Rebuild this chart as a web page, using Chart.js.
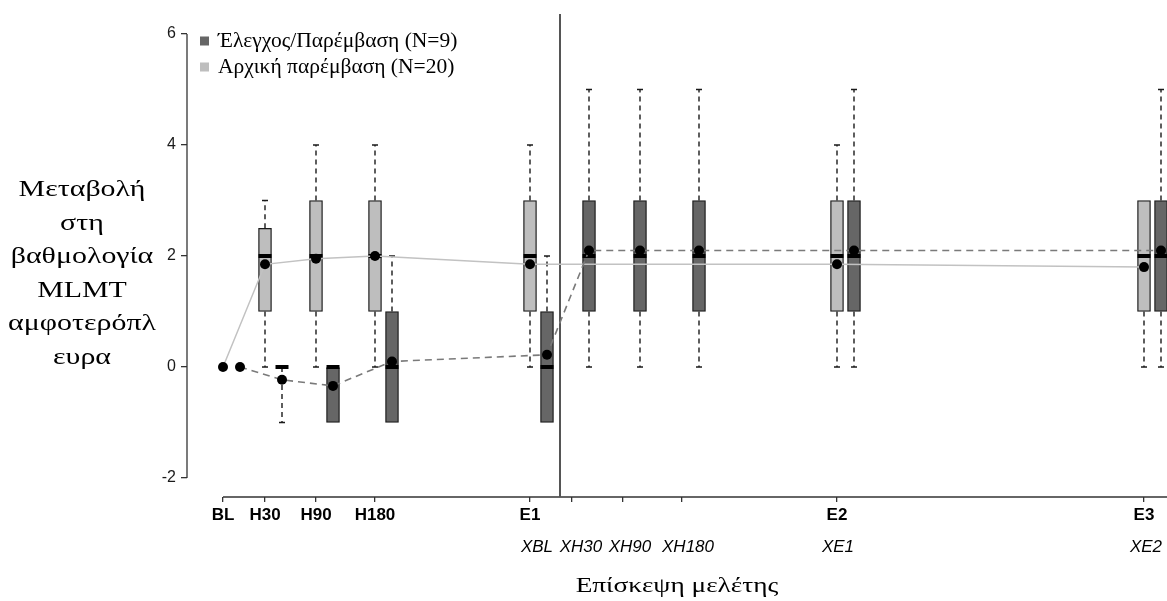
<!DOCTYPE html>
<html>
<head>
<meta charset="utf-8">
<script src="https://cdn.jsdelivr.net/npm/chart.js@4.4.1/dist/chart.umd.min.js"></script>
<style>
  html, body { margin: 0; padding: 0; background: #fff; }
  #wrap { width: 1167px; height: 601px; }
</style>
</head>
<body>
<div id="wrap"><canvas id="myChart"></canvas></div>
<script>
// visits on the study axis
const visitNames = ['BL', 'H30', 'H90', 'H180', 'E1', 'XH30', 'XH90', 'XH180', 'E2', 'E3'];
const visitPos   = [0, 4.2, 9.3, 15.2, 30.7, 34.9, 40.0, 45.9, 61.4, 92.1];
const tickLabels = ['BL', 'H30', 'H90', 'H180', 'E1', '', '', '', 'E2', 'E3'];
const label2Text = ['XBL', 'XH30', 'XH90', 'XH180', 'XE1', 'XE2'];
const label2Pos  = [31.4, 35.8, 40.7, 46.5, 61.5, 92.3];
const yTicks = [-2, 0, 2, 4, 6];
const crossover = 33.7;

// Αρχική παρέμβαση (N=20)
const initVisits = ['BL', 'H30', 'H90', 'H180', 'E1', 'E2', 'E3'];
const initMin  = [null, 0, 0, 0, 0, 0, 0];
const initQ1   = [null, 1, 1, 1, 1, 1, 1];
const initMed  = [null, 2, 2, 2, 2, 2, 2];
const initQ3   = [null, 2.5, 3, 3, 3, 3, 3];
const initMax  = [null, 3, 4, 4, 4, 4, 3];
const initMean = [0, 1.85, 1.95, 2.0, 1.85, 1.85, 1.8];

// Έλεγχος/Παρέμβαση (N=9)
const ctrlVisits = ['BL', 'H30', 'H90', 'H180', 'E1', 'XH30', 'XH90', 'XH180', 'E2', 'E3'];
const ctrlMin  = [null, -1, -1, -1, -1, 0, 0, 0, 0, 0];
const ctrlQ1   = [null, 0, -1, -1, -1, 1, 1, 1, 1, 1];
const ctrlMed  = [null, 0, 0, 0, 0, 2, 2, 2, 2, 2];
const ctrlQ3   = [null, 0, 0, 1, 1, 3, 3, 3, 3, 3];
const ctrlMax  = [null, 0, 0, 2, 2, 5, 5, 5, 5, 5];
const ctrlMean = [0, -0.23, -0.34, 0.1, 0.22, 2.1, 2.1, 2.1, 2.1, 2.1];

const yTitleLines = ['Μεταβολή', 'στη', 'βαθμολογία', 'MLMT', 'αμφοτερόπλ', 'ευρα'];
const xTitle = 'Επίσκεψη μελέτης';

const DODGE = 1.7;          // second group drawn to the right of the visit
const lightFill = '#bebebe';
const darkFill = '#666666';

function xOf(v) { return visitPos[visitNames.indexOf(v)]; }

function boxData(visits, q1, q3, dx) {
  return visits.map((v, i) => q1[i] == null ? null : {x: xOf(v) + dx, y: [q1[i], q3[i]]}).filter(Boolean);
}
function pointData(visits, vals, dx) {
  return visits.map((v, i) => vals[i] == null ? null : {x: xOf(v) + dx, y: vals[i]}).filter(Boolean);
}
function whiskerData(visits, q1, q3, mn, mx, dx) {
  const pts = [];
  visits.forEach((v, i) => {
    if (q1[i] == null) return;
    const x = xOf(v) + dx;
    if (mx[i] > q3[i]) pts.push({x: x, y: q3[i]}, {x: x, y: mx[i]}, {x: x, y: null});
    if (mn[i] < q1[i]) pts.push({x: x, y: q1[i]}, {x: x, y: mn[i]}, {x: x, y: null});
  });
  return pts;
}
function capData(visits, q1, q3, mn, mx, dx) {
  const pts = [];
  visits.forEach((v, i) => {
    if (q1[i] == null) return;
    const x = xOf(v) + dx;
    if (mx[i] > q3[i]) pts.push({x: x, y: mx[i]});
    if (mn[i] < q1[i]) pts.push({x: x, y: mn[i]});
  });
  return pts;
}

const serif = "'Liberation Serif', 'Times New Roman', serif";
const sans = "'Liberation Sans', Arial, sans-serif";

// bottom axes: fixed height, no side padding for edge labels
function fitBottom(h) {
  return (s) => { s.height = h; s.paddingLeft = 0; s.paddingRight = 0; };
}

const extras = {
  id: 'extras',
  beforeDatasetsDraw(chart) {
    const {ctx, chartArea, scales: {x, y}} = chart;
    ctx.save();
    ctx.strokeStyle = '#333';
    ctx.lineWidth = 1.3;
    // y axis line only between -2 and 6
    ctx.beginPath();
    ctx.moveTo(chartArea.left, y.getPixelForValue(yTicks[0]));
    ctx.lineTo(chartArea.left, y.getPixelForValue(yTicks[yTicks.length - 1]));
    ctx.stroke();
    // x axis line from BL onward
    ctx.beginPath();
    ctx.moveTo(x.getPixelForValue(visitPos[0]), chartArea.bottom);
    ctx.lineTo(chartArea.right, chartArea.bottom);
    ctx.stroke();
    // crossover line
    ctx.strokeStyle = '#555';
    ctx.lineWidth = 2;
    ctx.beginPath();
    ctx.moveTo(x.getPixelForValue(crossover), y.getPixelForValue(6.36));
    ctx.lineTo(x.getPixelForValue(crossover), chartArea.bottom);
    ctx.stroke();
    ctx.restore();
  },
  afterDraw(chart) {
    const {ctx, chartArea} = chart;
    ctx.save();
    ctx.fillStyle = '#000';
    // legend
    const items = chart.data.datasets.filter(d => d.legendRank != null).sort((a, b) => a.legendRank - b.legendRank);
    ctx.font = '21.5px ' + serif;
    ctx.textBaseline = 'middle';
    ctx.textAlign = 'left';
    items.forEach((d, i) => {
      const cy = chartArea.top + 16 + i * 26;
      ctx.fillStyle = d.backgroundColor;
      ctx.fillRect(chartArea.left + 13, cy - 4.5, 9, 9);
      ctx.fillStyle = '#000';
      ctx.fillText(d.label, chartArea.left + 31, cy);
    });
    // y title, horizontal lines
    ctx.font = '23px ' + serif;
    ctx.textAlign = 'center';
    yTitleLines.forEach((t, i) => {
      ctx.save();
      ctx.translate(82, 190 + i * 33.5);
      ctx.scale(1.3, 1);
      ctx.fillText(t, 0, 0);
      ctx.restore();
    });
    // x title
    ctx.font = '22px ' + serif;
    ctx.textBaseline = 'alphabetic';
    ctx.save();
    ctx.translate((chartArea.left + chartArea.right) / 2, 592);
    ctx.scale(1.24, 1);
    ctx.fillText(xTitle, 0, 0);
    ctx.restore();
    ctx.restore();
  }
};

const ctx = document.getElementById('myChart').getContext('2d');
const myChart = new Chart(ctx, {
  type: 'bar',
  data: {
    datasets: [
      {
        type: 'line', order: 0,
        data: pointData(ctrlVisits, ctrlMean, DODGE),
        borderColor: '#7a7a7a', borderWidth: 1.6, borderDash: [7, 5],
        pointRadius: 5, pointBackgroundColor: '#000', pointBorderWidth: 0, tension: 0
      },
      {
        type: 'line', order: 1,
        data: pointData(initVisits, initMean, 0),
        borderColor: '#c2c2c2', borderWidth: 1.5,
        pointRadius: 5, pointBackgroundColor: '#000', pointBorderWidth: 0, tension: 0
      },
      {
        type: 'line', order: 2, showLine: false,
        data: capData(initVisits, initQ1, initQ3, initMin, initMax, 0).concat(capData(ctrlVisits, ctrlQ1, ctrlQ3, ctrlMin, ctrlMax, DODGE)),
        pointStyle: 'line', pointRadius: 3, borderColor: '#1a1a1a', borderWidth: 1.5
      },
      {
        type: 'line', order: 3, showLine: false,
        data: pointData(initVisits, initMed, 0).concat(pointData(ctrlVisits, ctrlMed, DODGE)),
        pointStyle: 'line', pointRadius: 6.5, borderColor: '#000', borderWidth: 4
      },
      {
        type: 'line', order: 4, spanGaps: false,
        data: whiskerData(initVisits, initQ1, initQ3, initMin, initMax, 0).concat(whiskerData(ctrlVisits, ctrlQ1, ctrlQ3, ctrlMin, ctrlMax, DODGE)),
        borderColor: '#1a1a1a', borderWidth: 1.4, borderDash: [5, 4], pointRadius: 0
      },
      {
        label: 'Έλεγχος/Παρέμβαση (N=9)', legendRank: 0, order: 5,
        data: boxData(ctrlVisits, ctrlQ1, ctrlQ3, DODGE),
        backgroundColor: darkFill, borderColor: '#1a1a1a', borderWidth: 1.3, borderSkipped: false,
        barThickness: 13, grouped: false
      },
      {
        label: 'Αρχική παρέμβαση (N=20)', legendRank: 1, order: 6,
        data: boxData(initVisits, initQ1, initQ3, 0),
        backgroundColor: lightFill, borderColor: '#1a1a1a', borderWidth: 1.3, borderSkipped: false,
        barThickness: 13, grouped: false
      }
    ]
  },
  options: {
    responsive: true,
    maintainAspectRatio: false,
    animation: false,
    layout: {autoPadding: false, padding: {top: 25, left: 0, right: 0, bottom: 0}},
    plugins: {legend: {display: false}, tooltip: {enabled: false}},
    scales: {
      x: {
        type: 'linear', position: 'bottom', weight: 0, offset: false,
        min: -3.6, max: 94.4,
        afterBuildTicks: (s) => { s.ticks = visitPos.map(v => ({value: v})); },
        afterFit: fitBottom(30),
        ticks: {
          autoSkip: false, maxRotation: 0, padding: 3, color: '#000',
          font: {family: sans, size: 17, weight: 'bold'},
          callback: (val, i) => tickLabels[i]
        },
        grid: {offset: false, drawOnChartArea: false, tickLength: 5, color: '#333', lineWidth: 1.3},
        border: {display: false}
      },
      x2: {
        type: 'linear', position: 'bottom', weight: 1, offset: false,
        min: -3.6, max: 94.4,
        afterBuildTicks: (s) => { s.ticks = label2Pos.map(v => ({value: v})); },
        afterFit: fitBottom(74),
        ticks: {
          autoSkip: false, maxRotation: 0, padding: 10, color: '#000',
          font: {family: sans, size: 17, style: 'italic'},
          callback: (val, i) => label2Text[i]
        },
        grid: {offset: false, display: false, drawTicks: false},
        border: {display: false}
      },
      y: {
        type: 'linear', min: -2.342, max: 6.162,
        afterBuildTicks: (s) => { s.ticks = yTicks.map(v => ({value: v})); },
        afterFit: (s) => { s.width = 187; },
        ticks: {padding: 5, color: '#1a1a1a', font: {family: sans, size: 16}},
        grid: {drawOnChartArea: false, tickLength: 6, color: '#333', lineWidth: 1.3},
        border: {display: false}
      }
    }
  },
  plugins: [extras]
});
</script>
</body>
</html>
